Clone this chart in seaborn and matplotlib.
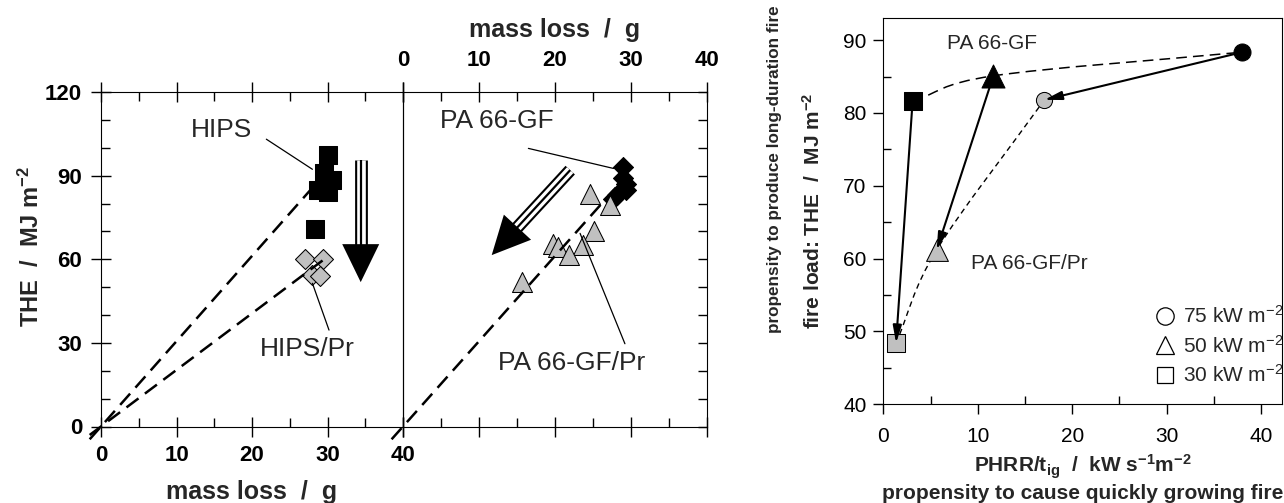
"""THE vs mass loss (HIPS, PA 66-GF) and fire-load vs PHRR/tig chart"""

import numpy as np
import matplotlib
matplotlib.use("Agg")
import matplotlib.pyplot as plt
import seaborn as sns
from matplotlib.path import Path
from matplotlib.patches import PathPatch
from matplotlib.lines import Line2D
from matplotlib.ticker import MultipleLocator

# --- left half: HIPS / HIPS-Pr (mass loss in g, THE in MJ m-2)
hips_mass = [30.0, 29.6, 30.6, 28.8, 30.0, 28.3]
hips_the = [97.5, 91.0, 88.5, 85.0, 84.0, 71.0]
hips_pr_mass = [27.0, 29.4, 28.0, 29.0]
hips_pr_the = [60.0, 60.0, 54.5, 54.0]

# --- middle: PA 66-GF / PA 66-GF-Pr
pa_mass = [29.0, 28.9, 29.3, 29.4, 28.2, 27.6]
pa_the = [93.0, 89.0, 87.0, 85.0, 83.0, 81.5]
pa_pr_mass = [24.6, 27.3, 25.1, 19.8, 20.4, 23.7, 21.9, 15.7]
pa_pr_the = [83.6, 79.6, 70.0, 65.4, 64.4, 65.2, 61.4, 52.0]

# dashed THE/mass-loss lines through origin: (slope, end mass loss)
hips_line = (3.06, 27.9)
hips_pr_line = (2.03, 29.4)
pa_line = (3.06, 28.5)

# --- right: fire load vs PHRR/tig for three heat fluxes
flux_labels = ["75 kW m$^{-2}$", "50 kW m$^{-2}$", "30 kW m$^{-2}$"]
flux_markers = ["o", "^", "s"]
gf_rate = [38.0, 11.65, 3.1]
gf_the = [88.35, 85.1, 81.6]
gfpr_rate = [17.05, 5.65, 1.35]
gfpr_the = [81.8, 61.2, 48.4]

GRAY = "#c0c0c0"

sns.set_style("ticks", {"axes.edgecolor": "black", "xtick.color": "black",
                        "ytick.color": "black", "axes.linewidth": 1.0})
plt.rcParams["font.family"] = ["Liberation Sans", "DejaVu Sans"]
plt.rcParams["mathtext.fontset"] = "custom"
plt.rcParams["mathtext.rm"] = "Liberation Sans"
plt.rcParams["mathtext.bf"] = "Liberation Sans:bold"
plt.rcParams["mathtext.default"] = "regular"


def triple_arrow(ax, start, tip, head_len=38, head_w=37):
    """Big arrow: shaft of three black lines, solid black head (sizes in px)."""
    fwd = ax.transData.transform
    inv = ax.transData.inverted().transform
    s = fwd(start)
    t = fwd(tip)
    u = (t - s) / np.hypot(*(t - s))
    n = np.array([-u[1], u[0]])
    base = t - u * head_len
    s_d = inv(s)
    b_d = inv(base + u * 2)
    for lw, c in [(9.2, "black"), (6.2, "white"), (1.6, "black")]:
        ax.plot([s_d[0], b_d[0]], [s_d[1], b_d[1]], color=c, lw=lw,
                solid_capstyle="butt", zorder=6, clip_on=False)
    head = inv(np.array([t, base + n * head_w / 2, base - n * head_w / 2]))
    ax.fill(head[:, 0], head[:, 1], color="black", lw=0, zorder=7)


def smooth_path(xs, ys):
    """Bezier path through the points (Catmull-Rom style tangents)."""
    pts = np.column_stack([xs, ys])
    pts = pts[np.argsort(pts[:, 0])]
    tang = np.zeros_like(pts)
    tang[0] = pts[1] - pts[0]
    tang[-1] = pts[-1] - pts[-2]
    for i in range(1, len(pts) - 1):
        tang[i] = (pts[i + 1] - pts[i - 1]) / 2
    verts = [pts[0]]
    codes = [Path.MOVETO]
    for i in range(len(pts) - 1):
        verts += [pts[i] + tang[i] / 3, pts[i + 1] - tang[i + 1] / 3, pts[i + 1]]
        codes += [Path.CURVE4] * 3
    return Path(verts, codes)


def bold_ticks(ax, axis, ticks):
    labels = [str(t) for t in ticks]
    if axis == "x":
        ax.set_xticks(ticks, labels, fontweight="bold", fontsize=16)
    else:
        ax.set_yticks(ticks, labels, fontweight="bold", fontsize=16)


fig = plt.figure(figsize=(12.84, 5.03), dpi=100)
W, H = 1284, 503

ax1 = fig.add_axes([101 / W, 1 - 426.5 / H, 302 / W, 334.4 / H])
ax2 = fig.add_axes([403 / W, 1 - 426.5 / H, 304 / W, 334.4 / H])
ax3 = fig.add_axes([883.3 / W, 1 - 404.3 / H, 398.7 / W, 386 / H])
ax2.patch.set_alpha(0)

# ---------------- left panel (HIPS)
ax1.set_xlim(0, 40)
ax1.set_ylim(0, 120)
bold_ticks(ax1, "x", [0, 10, 20, 30, 40])
bold_ticks(ax1, "y", [0, 30, 60, 90, 120])
ax1.xaxis.set_minor_locator(MultipleLocator(5))
ax1.yaxis.set_minor_locator(MultipleLocator(10))
ax1.tick_params(which="major", direction="inout", length=15, width=1,
                top=True, bottom=True, left=True, right=False)
ax1.tick_params(which="minor", direction="in", length=6.5, width=1,
                top=True, bottom=True, left=True, right=False)
ax1.tick_params(axis="x", which="major", pad=6)
ax1.tick_params(axis="y", which="major", pad=6)

for slope, xend in [hips_line, hips_pr_line]:
    xs = np.array([-1.5, xend])
    ax1.plot(xs, slope * xs, color="black", lw=1.8, dashes=(6, 3.2),
             zorder=4, clip_on=False)

sns.scatterplot(x=hips_mass, y=hips_the, marker="s", s=187, color="black",
                edgecolor="black", linewidth=0.75, ax=ax1, zorder=3, legend=False)
sns.scatterplot(x=hips_pr_mass, y=hips_pr_the, marker="D", s=104, color=GRAY,
                edgecolor="black", linewidth=0.75, ax=ax1, zorder=3, legend=False)

ax1.text(16.0, 106.4, "HIPS", fontsize=19, ha="center", va="center")
ax1.plot([21.9, 28.0], [103.1, 92.3], color="black", lw=0.9, zorder=5)
ax1.text(27.35, 27.8, "HIPS/Pr", fontsize=19, ha="center", va="center")
ax1.plot([30.2, 28.0], [34.6, 51.4], color="black", lw=0.9, zorder=5)
triple_arrow(ax1, (34.4, 95.6), (34.4, 51.8))

ax1.set_xlabel("mass loss  /  g", fontsize=18, fontweight="bold", labelpad=10)
ax1.set_ylabel("THE  /  MJ m$^{-2}$", fontsize=17, fontweight="bold")
ax1.yaxis.set_label_coords(-0.19, 0.537)

# ---------------- middle panel (PA 66-GF)
ax2.set_xlim(0, 40)
ax2.set_ylim(0, 120)
bold_ticks(ax2, "x", [0, 10, 20, 30, 40])
ax2.set_yticks([0, 30, 60, 90, 120])
ax2.xaxis.set_minor_locator(MultipleLocator(5))
ax2.yaxis.set_minor_locator(MultipleLocator(10))
ax2.tick_params(axis="x", which="major", direction="inout", length=15, width=1,
                top=True, bottom=True, labeltop=True, labelbottom=False, pad=7.5)
ax2.tick_params(axis="x", which="minor", direction="in", length=6.5, width=1,
                top=True, bottom=True)
ax2.tick_params(axis="y", which="both", direction="in", length=6.5, width=1,
                left=False, right=True, labelleft=False, labelright=False)
ax2.xaxis.set_label_position("top")

xs = np.array([-1.5, pa_line[1]])
ax2.plot(xs, pa_line[0] * xs, color="black", lw=1.8, dashes=(6, 3.2),
         zorder=4, clip_on=False)
sns.scatterplot(x=pa_mass, y=pa_the, marker="D", s=104, color="black",
                edgecolor="black", linewidth=0.75, ax=ax2, zorder=3, legend=False)
sns.scatterplot(x=pa_pr_mass, y=pa_pr_the, marker="^", s=207, color=GRAY,
                edgecolor="black", linewidth=0.75, ax=ax2, zorder=3, legend=False)

ax2.text(12.4, 109.6, "PA 66-GF", fontsize=19, ha="center", va="center")
ax2.plot([16.5, 27.7], [99.8, 92.6], color="black", lw=0.9, zorder=5)
ax2.text(22.2, 22.8, "PA 66-GF/Pr", fontsize=19, ha="center", va="center")
ax2.plot([29.2, 23.3], [29.7, 69.3], color="black", lw=0.9, zorder=5)
triple_arrow(ax2, (22.0, 92.0), (11.67, 61.5))

ax2.set_xlabel("mass loss  /  g", fontsize=18, fontweight="bold", labelpad=9.5)

# ---------------- right chart (PHRR/tig)
ax3.set_xlim(0, 42.2)
ax3.set_ylim(40, 93)
ax3.set_xticks([0, 10, 20, 30, 40])
ax3.set_yticks([40, 50, 60, 70, 80, 90])
ax3.xaxis.set_minor_locator(MultipleLocator(5))
ax3.yaxis.set_minor_locator(MultipleLocator(5))
ax3.tick_params(which="major", direction="out", length=7, width=1,
                labelsize=15, pad=5)
ax3.tick_params(axis="x", which="major", pad=9)
ax3.tick_params(which="minor", direction="in", length=6, width=1)

ax3.add_patch(PathPatch(smooth_path(gf_rate, gf_the), fill=False, lw=1.1,
                        edgecolor="black", linestyle=(0, (7, 4)), zorder=2))
ax3.add_patch(PathPatch(smooth_path(gfpr_rate, gfpr_the), fill=False, lw=1.0,
                        edgecolor="black", linestyle=(0, (4, 3)), zorder=2))

sizes = {"o": 150, "^": 274, "s": 169}
for mk, x0, y0, x1, y1 in zip(flux_markers, gf_rate, gf_the, gfpr_rate, gfpr_the):
    sns.scatterplot(x=[x0], y=[y0], marker=mk, s=sizes[mk], color="black",
                    edgecolor="black", linewidth=0.75, ax=ax3, zorder=3, legend=False)
    sns.scatterplot(x=[x1], y=[y1], marker=mk, s=sizes[mk] * 0.9, color=GRAY,
                    edgecolor="black", linewidth=0.75, ax=ax3, zorder=3, legend=False)
    ax3.annotate("", xy=(x1, y1), xytext=(x0, y0),
                 arrowprops=dict(arrowstyle="-|>,head_length=0.8,head_width=0.2",
                                 color="black", lw=1.5, shrinkA=0, shrinkB=0,
                                 mutation_scale=13),
                 zorder=4)

ax3.text(11.55, 89.5, "PA 66-GF", fontsize=15, ha="center", va="center")
ax3.text(15.5, 59.3, "PA 66-GF/Pr", fontsize=15, ha="center", va="center")

handles = [Line2D([], [], marker=mk, ls="none", mfc="white", mec="black",
                  mew=0.9, ms=ms) for mk, ms in zip(flux_markers, [12.5, 13, 12])]
ax3.legend(handles, flux_labels, loc="lower right", bbox_to_anchor=(1.04, 0.01),
           frameon=False, fontsize=15, handlelength=1.0, handletextpad=0.35,
           labelspacing=0.36, borderpad=0.2)

ax3.set_xlabel("PHRR/t$_{ig}$  /  kW s$^{-1}$m$^{-2}$", fontsize=15,
               fontweight="bold", labelpad=5)
ax3.set_ylabel("fire load: THE  /  MJ m$^{-2}$", fontsize=15, fontweight="bold",
               labelpad=14)
ax3.text(0.5, -0.23, "propensity to cause quickly growing fire", fontsize=15,
         fontweight="bold", ha="center", va="center", transform=ax3.transAxes)
ax3.text(-0.272, 0.185, "propensity to produce long-duration fire", fontsize=12.3,
         fontweight="bold", ha="center", va="bottom", rotation=90,
         transform=ax3.transAxes)

fig.savefig("out.png", dpi=100)
plt.close(fig)
